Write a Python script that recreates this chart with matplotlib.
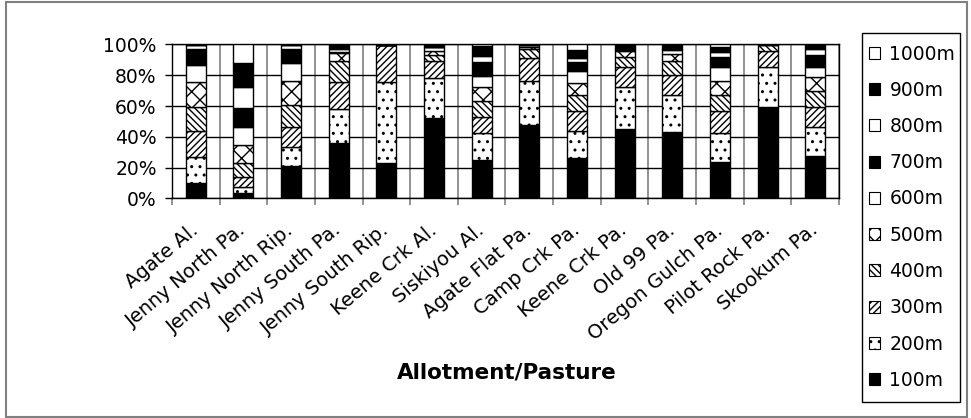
import matplotlib
matplotlib.use("Agg")
import matplotlib.pyplot as plt
from matplotlib.patches import Patch, Rectangle
import numpy as np

plt.rcParams['font.family'] = ['DejaVu Sans']
plt.rcParams['hatch.linewidth'] = 1.0

categories = ["Agate Al.", "Jenny North Pa.", "Jenny North Rip.", "Jenny South Pa.",
              "Jenny South Rip.", "Keene Crk Al.", "Siskiyou Al.", "Agate Flat Pa.",
              "Camp Crk Pa.", "Keene Crk Pa.", "Old 99 Pa.", "Oregon Gulch Pa.",
              "Pilot Rock Pa.", "Skookum Pa."]

# Share (%) of each elevation band per allotment/pasture
m100 = [9.8, 3.3, 21.3, 35.8, 22.8, 52.5, 24.9, 47.7, 26.5, 44.9, 43.4, 23.9, 59.7, 27.5]
m200 = [17.2, 3.9, 12.3, 22.1, 52.7, 26.0, 17.4, 28.7, 17.3, 27.8, 23.8, 18.4, 25.5, 18.7]
m300 = [16.8, 6.9, 13.0, 18.0, 23.9, 11.1, 10.4, 15.1, 13.0, 13.0, 13.1, 14.5, 10.8, 13.0]
m400 = [15.9, 9.1, 14.1, 13.2, 0.2, 3.9, 10.6, 5.5, 10.4, 6.5, 8.8, 10.4, 3.7, 10.9]
m500 = [15.8, 11.5, 15.9, 5.2, 0.1, 2.2, 9.4, 1.5, 8.1, 3.5, 4.8, 9.4, 0.2, 9.1]
m600 = [11.3, 11.5, 11.3, 0.7, 0.1, 2.5, 7.1, 1.0, 7.8, 0.8, 2.6, 8.6, 0.1, 6.3]
m700 = [10.2, 12.4, 9.1, 0.3, 0.1, 0.2, 8.7, 0.2, 5.4, 0.5, 0.3, 6.6, 0.0, 7.5]
m800 = [2.4, 13.6, 2.4, 2.1, 0.1, 0.0, 4.0, 0.1, 3.0, 0.5, 0.6, 3.4, 0.0, 4.3]
m900 = [0.4, 15.7, 0.4, 2.6, 0.0, 1.6, 6.5, 0.2, 5.0, 2.5, 2.6, 3.3, 0.0, 2.7]
m1000 = [0.2, 12.1, 0.2, 0.0, 0.0, 0.0, 1.0, 0.0, 3.5, 0.0, 0.0, 1.5, 0.0, 0.0]

series_labels = ["100m", "200m", "300m", "400m", "500m",
                 "600m", "700m", "800m", "900m", "1000m"]
series_values = [m100, m200, m300, m400, m500, m600, m700, m800, m900, m1000]
fills = ["black", "white", "white", "white", "white",
         "white", "black", "white", "black", "white"]
hatches = [None, "..", "/////", "\\\\\\\\\\", "xx",
           None, None, None, None, None]

W, H = 971, 418
fig = plt.figure(figsize=(W / 100, H / 100), dpi=100)
ax = fig.add_axes([172 / W, 1 - 198.5 / H, (839 - 172) / W, (198.5 - 44.5) / H])

x = np.arange(len(categories))
bottom = np.zeros(len(categories))
for vals, fc, ht in zip(series_values, fills, hatches):
    v = np.array(vals)
    ax.bar(x, v, width=0.42, bottom=bottom, color=fc, edgecolor="black",
           linewidth=1.0, hatch=ht, zorder=3)
    bottom += v

ax.set_xlim(-0.5, len(categories) - 0.5)
ax.set_ylim(0, 100)

# y axis
ax.set_yticks(np.arange(0, 101, 20))
ax.set_yticklabels([f"{t}%" for t in range(0, 101, 20)], fontsize=13.5)
ax.tick_params(axis="y", direction="out", length=5, width=1, color="black", pad=6)
ax.yaxis.grid(True, color="black", linewidth=1, zorder=1)

# x axis: labels at centres, ticks/gridlines at boundaries
ax.set_xticks(x)
ax.set_xticklabels(categories, rotation=40, ha="right", va="center",
                   rotation_mode="anchor", fontsize=14)
ax.tick_params(axis="x", which="major", length=0, pad=21)
ax.set_xticks(np.arange(-0.5, len(categories), 1.0), minor=True)
ax.tick_params(axis="x", which="minor", direction="out", length=5, width=1.2, color="#808080")
ax.xaxis.grid(True, which="minor", color="#808080", linewidth=1.2, zorder=1)

for s in ["left", "bottom", "top", "right"]:
    ax.spines[s].set_color("black")
    ax.spines[s].set_linewidth(1)

fig.text(507 / W, 1 - 373 / H, "Allotment/Pasture", ha="center", va="center",
         fontsize=15.5, fontweight="bold")

# legend, highest band first
handles = [Patch(facecolor=fc, edgecolor="black", hatch=ht, linewidth=0.8)
           for fc, ht in zip(fills, hatches)][::-1]
leg = fig.legend(handles, series_labels[::-1], loc="upper left",
                 bbox_to_anchor=(869 / W, 1 - 44.5 / H), fontsize=13.5,
                 frameon=False, handlelength=0.59, handleheight=0.59,
                 handletextpad=0.5, labelspacing=0.92, borderpad=0,
                 borderaxespad=0)
fig.patches.append(Rectangle((862 / W, 1 - 402 / H), (960 - 862) / W, (402 - 33) / H,
                             transform=fig.transFigure, fill=False,
                             edgecolor="black", linewidth=1.0))

# outer chart border
fig.patches.append(Rectangle((6 / W, 1 / H), (967 - 6) / W, (416 - 1) / H,
                             transform=fig.transFigure, fill=False,
                             edgecolor="#808080", linewidth=1.5))

fig.savefig("out.png", dpi=100)
